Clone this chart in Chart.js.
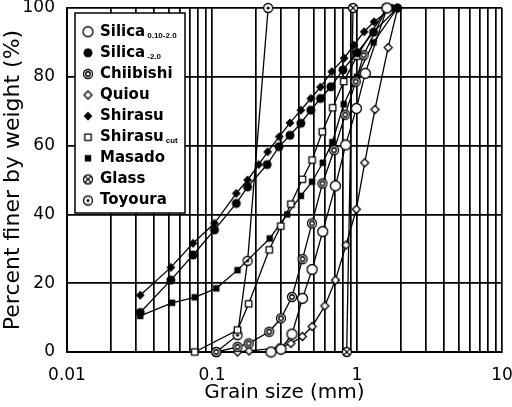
<!DOCTYPE html>
<html>
<head>
<meta charset="utf-8">
<script src="https://cdn.jsdelivr.net/npm/chart.js@4.4.1/dist/chart.umd.min.js"></script>
<style>
  html, body { margin: 0; padding: 0; background: #fff; }
  #wrap { width: 512px; height: 407px; }
</style>
</head>
<body>
<div id="wrap"><canvas id="grain_chart"></canvas></div>
<script>
/* grain size distribution curves, percent finer by weight vs grain size (mm) */

const silicaFineSize = [0.255, 0.299, 0.356, 0.421, 0.49, 0.58, 0.71, 0.836, 0.99, 1.14, 1.61];
const silicaFineFiner = [0, 0.8, 5.2, 15.6, 24, 35, 48.3, 60.2, 70.8, 81, 100];

const silicaCoarseSize = [0.032, 0.052, 0.074, 0.104, 0.147, 0.176, 0.24, 0.29, 0.345, 0.41, 0.48, 0.56, 0.66, 0.8, 1.0, 1.3, 1.9];
const silicaCoarseFiner = [11.5, 20.9, 28.2, 35.5, 43.2, 48, 54.5, 59.7, 63, 66.5, 70.3, 73.7, 77.1, 82, 87, 93, 100];

const chiibishiSize = [0.107, 0.15, 0.179, 0.248, 0.299, 0.356, 0.421, 0.489, 0.578, 0.695, 0.83, 0.98, 1.11, 1.6];
const chiibishiFiner = [0, 1.5, 2.5, 5.9, 9.8, 16, 27, 37.4, 49, 58.7, 69, 78.6, 86.3, 100];

const quiouSize = [0.15, 0.18, 0.29, 0.35, 0.42, 0.49, 0.6, 0.71, 0.84, 0.99, 1.13, 1.33, 1.64, 1.91];
const quiouFiner = [0, 0.3, 1.2, 2.5, 4.5, 7.4, 13.4, 20.9, 31.1, 41.5, 55, 70.5, 88.5, 100];

const shirasuSize = [0.032, 0.052, 0.074, 0.104, 0.147, 0.176, 0.21, 0.242, 0.291, 0.345, 0.41, 0.48, 0.56, 0.67, 0.815, 0.95, 1.12, 1.31, 1.75];
const shirasuFiner = [16.5, 24.6, 31.6, 37.4, 46.1, 50, 54.5, 58.2, 62.6, 66.6, 70.3, 73.7, 77, 81.5, 85.4, 89.2, 93.1, 96, 100];

const shirasuCutSize = [0.076, 0.15, 0.179, 0.248, 0.298, 0.35, 0.42, 0.49, 0.576, 0.68, 0.81, 1.0, 1.6];
const shirasuCutFiner = [0, 6.4, 14, 29.7, 36.6, 43, 50.2, 55.8, 64, 71, 78.6, 86, 100];

const masadoSize = [0.032, 0.053, 0.076, 0.107, 0.15, 0.25, 0.33, 0.41, 0.49, 0.58, 0.676, 0.81, 1.0, 1.3, 1.9];
const masadoFiner = [10.5, 14.3, 15.9, 18.5, 23.8, 33, 40, 45.4, 49.5, 55, 61, 72, 80, 90, 100];

const glassSize = [0.849, 0.939];
const glassFiner = [0, 100];

const toyouraSize = [0.107, 0.15, 0.176, 0.244];
const toyouraFiner = [0, 4.9, 26.5, 100];

const xMajorLabels = [0.01, 0.1, 1, 10];
const yTicks = [0, 20, 40, 60, 80, 100];

const legendNames = ['Silica', 'Silica', 'Chiibishi', 'Quiou', 'Shirasu', 'Shirasu', 'Masado', 'Glass', 'Toyoura'];
const legendSubs = ['0.10-2.0', '-2.0', '', '', '', 'cut', '', '', ''];

// small canvases for the marker shapes
function marker(kind, r) {
    const c = document.createElement('canvas');
    const s = Math.ceil(r * 2 + 3);
    c.width = s; c.height = s;
    const g = c.getContext('2d');
    const m = s / 2;
    g.strokeStyle = '#000';
    g.fillStyle = '#000';
    g.lineWidth = 1.3;
    if (kind === 'openCircle' || kind === 'double' || kind === 'dot' || kind === 'cross') {
        g.beginPath(); g.arc(m, m, r, 0, Math.PI * 2);
        g.fillStyle = '#fff'; g.fill(); g.stroke();
        g.fillStyle = '#000';
    }
    if (kind === 'filledCircle') {
        g.beginPath(); g.arc(m, m, r, 0, Math.PI * 2); g.fill();
    }
    if (kind === 'double') {
        g.beginPath(); g.arc(m, m, r * 0.5, 0, Math.PI * 2); g.stroke();
    }
    if (kind === 'dot') {
        g.beginPath(); g.arc(m, m, r * 0.35, 0, Math.PI * 2); g.fill();
    }
    if (kind === 'cross') {
        const d = r * 0.7;
        g.beginPath();
        g.moveTo(m - d, m - d); g.lineTo(m + d, m + d);
        g.moveTo(m + d, m - d); g.lineTo(m - d, m + d);
        g.stroke();
    }
    if (kind === 'openDiamond' || kind === 'filledDiamond') {
        g.beginPath();
        g.moveTo(m, m - r); g.lineTo(m + r, m); g.lineTo(m, m + r); g.lineTo(m - r, m); g.closePath();
        g.fillStyle = kind === 'openDiamond' ? '#fff' : '#000';
        g.fill(); g.stroke();
    }
    if (kind === 'openSquare' || kind === 'filledSquare') {
        g.beginPath(); g.rect(m - r * 0.8, m - r * 0.8, r * 1.6, r * 1.6);
        g.fillStyle = kind === 'openSquare' ? '#fff' : '#000';
        g.fill(); g.stroke();
    }
    return c;
}

const markers = [
    marker('openCircle', 5),
    marker('filledCircle', 4.5),
    marker('double', 4.5),
    marker('openDiamond', 4),
    marker('filledDiamond', 3.5),
    marker('openSquare', 4),
    marker('filledSquare', 3.2),
    marker('cross', 4.5),
    marker('dot', 4.5)
];

const seriesSizes = [silicaFineSize, silicaCoarseSize, chiibishiSize, quiouSize, shirasuSize, shirasuCutSize, masadoSize, glassSize, toyouraSize];
const seriesFiner = [silicaFineFiner, silicaCoarseFiner, chiibishiFiner, quiouFiner, shirasuFiner, shirasuCutFiner, masadoFiner, glassFiner, toyouraFiner];

const datasets_grain = seriesSizes.map((sizes, i) => ({
    label: legendNames[i] + legendSubs[i],
    data: sizes.map((x, k) => ({ x: x, y: seriesFiner[i][k] })),
    showLine: true,
    borderColor: '#000',
    borderWidth: 1.3,
    pointStyle: markers[i],
    pointRadius: 5,
    clip: false
}));

// log ticks 1..9 per decade, labels only on decades
const xTickValues = [];
for (let e = -2; e <= 0; e++) {
    for (let m = 1; m <= 9; m++) {
        xTickValues.push(parseFloat((m * Math.pow(10, e)).toPrecision(3)));
    }
}
xTickValues.push(10);

const legendPlugin = {
    id: 'subLegend',
    afterDatasetsDraw(chart) {
        const ctx = chart.ctx;
        ctx.save();
        ctx.fillStyle = '#fff';
        ctx.fillRect(75, 13, 110, 200);
        ctx.strokeStyle = '#000';
        ctx.lineWidth = 1.5;
        ctx.strokeRect(75, 13, 110, 200);
        for (let i = 0; i < legendNames.length; i++) {
            const y = 31.7 + i * 21.1;
            const mk = markers[i];
            ctx.drawImage(mk, 88 - mk.width / 2, y - mk.height / 2);
            ctx.fillStyle = '#000';
            ctx.font = 'bold 15px "DejaVu Sans"';
            ctx.textBaseline = 'middle';
            ctx.textAlign = 'left';
            ctx.fillText(legendNames[i], 100, y);
            if (legendSubs[i]) {
                const w = ctx.measureText(legendNames[i]).width;
                ctx.font = 'bold 8px "Liberation Sans"';
                ctx.fillText(legendSubs[i], 100 + w + 2, y + 4);
            }
        }
        ctx.restore();
    }
};

const config_grain = {
    type: 'scatter',
    data: { datasets: datasets_grain },
    options: {
        responsive: true,
        maintainAspectRatio: false,
        animation: false,
        layout: { padding: { top: 8, right: 10, left: 0, bottom: 0 } },
        plugins: {
            legend: { display: false },
            tooltip: { enabled: false }
        },
        scales: {
            x: {
                type: 'logarithmic',
                min: 0.01,
                max: 10,
                afterBuildTicks: (scale) => {
                    scale.ticks = xTickValues.map(v => ({ value: v }));
                },
                afterFit: (scale) => {
                    scale.height = 55;
                    scale.paddingLeft = 0;
                    scale.paddingRight = 0;
                },
                ticks: {
                    autoSkip: false,
                    maxRotation: 0,
                    padding: 13,
                    color: '#000',
                    font: { family: 'DejaVu Sans', size: 17 },
                    callback: (v) => xMajorLabels.some(t => Math.abs(t - v) < 1e-9) ? String(v) : ''
                },
                grid: { color: '#000', lineWidth: 1.7, drawTicks: false },
                border: { color: '#000', width: 2 },
                title: {
                    display: true,
                    text: 'Grain size (mm)',
                    color: '#000',
                    font: { family: 'DejaVu Sans', size: 20 },
                    padding: { top: 0, bottom: 2 }
                }
            },
            y: {
                min: 0,
                max: 100,
                afterBuildTicks: (scale) => {
                    scale.ticks = yTicks.map(v => ({ value: v }));
                },
                afterFit: (scale) => {
                    scale.width = 67;
                    scale.paddingTop = 0;
                    scale.paddingBottom = 0;
                },
                ticks: {
                    padding: 12,
                    color: '#000',
                    font: { family: 'DejaVu Sans', size: 17 }
                },
                grid: { color: '#000', lineWidth: 1.7, drawTicks: false },
                border: { color: '#000', width: 2 },
                title: {
                    display: true,
                    text: 'Percent finer by weight (%)',
                    color: '#000',
                    font: { family: 'DejaVu Sans', size: 22 },
                    padding: { top: 0, bottom: 0 }
                }
            }
        }
    },
    plugins: [legendPlugin]
};

const grafico_grain = new Chart(document.getElementById('grain_chart'), config_grain);
</script>
</body>
</html>
